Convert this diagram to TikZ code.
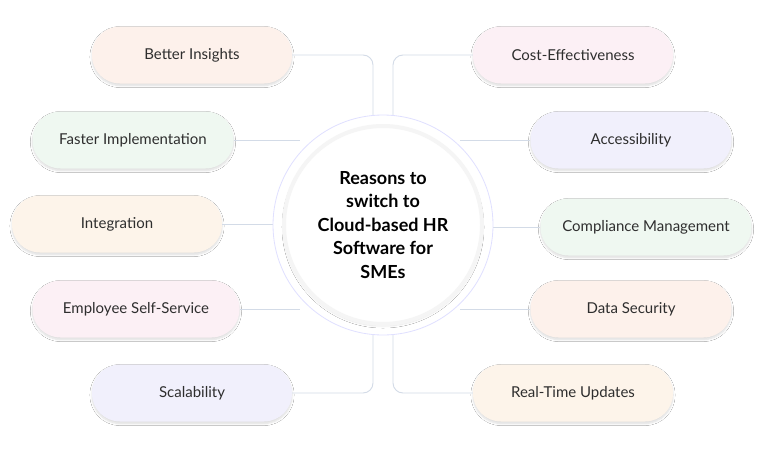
\documentclass[tikz,border=0pt]{standalone}
\usepackage{fontspec}
\setmainfont{Lato}
\usetikzlibrary{shadows.blur}
\definecolor{cpeach}{HTML}{FDF1EB}
\definecolor{cgreen}{HTML}{EFF8F1}
\definecolor{corange}{HTML}{FDF4EA}
\definecolor{cpink}{HTML}{FCF0F5}
\definecolor{clav}{HTML}{F1F0FC}
\definecolor{cline}{HTML}{D3DBE7}
\definecolor{ctext}{HTML}{2E2E2E}
\begin{document}
\begin{tikzpicture}[x=1pt,y=-1pt,
 pill/.style={rounded corners=28pt,minimum height=57pt,text=ctext,font=\fontsize{15}{17}\selectfont,blur shadow={shadow blur steps=6,shadow xshift=0pt,shadow yshift=-2pt,shadow opacity=14}},
 conn/.style={draw=cline,line width=0.9pt,rounded corners=10pt}]
\useasboundingbox (0,0) rectangle (765,450);
\fill[white] (0,0) rectangle (765,450);
\coordinate (c) at (383,225);
\node[pill,fill=cpeach,minimum width=200pt] (bi) at (192,55) {Better Insights};
\node[pill,fill=cgreen,minimum width=201pt] (fi) at (133,140) {Faster Implementation};
\node[pill,fill=corange,minimum width=210pt] (in) at (117,224) {Integration};
\node[pill,fill=cpink,minimum width=207pt] (es) at (136,309) {Employee Self-Service};
\node[pill,fill=clav,minimum width=200pt] (sc) at (192,393) {Scalability};
\node[pill,fill=cpink,minimum width=200pt] (ce) at (573,55) {Cost-Effectiveness};
\node[pill,fill=clav,minimum width=201pt] (ac) at (631,140) {Accessibility};
\node[pill,fill=cgreen,minimum width=211pt] (cm) at (646,227) {Compliance Management};
\node[pill,fill=cpeach,minimum width=201pt] (ds) at (631,309) {Data Security};
\node[pill,fill=corange,minimum width=200pt] (rt) at (573,393) {Real-Time Updates};
\draw[conn] (bi.east) -| (373,140);
\draw[conn] (ce.west) -| (393,140);
\draw[conn] (sc.east) -| (373,310);
\draw[conn] (rt.west) -| (393,310);
\draw[conn] (fi.east) -- (300,140);
\draw[conn] (in.east) -- (300,224);
\draw[conn] (es.east) -- (300,309);
\draw[conn] (ac.west) -- (460,140);
\draw[conn] (cm.west) -- (460,227);
\draw[conn] (ds.west) -- (460,309);
\fill[white,draw=blue!12,line width=0.8pt] (c) circle (110);
\node[circle,minimum size=198pt,fill=white,draw=black!4,line width=4pt,blur shadow={shadow blur steps=6,shadow xshift=0pt,shadow yshift=-2pt,shadow opacity=12},align=center,font=\bfseries\fontsize{18}{23.5}\selectfont] (t) at (c) {Reasons to\\switch to\\Cloud-based HR\\Software for\\SMEs};
\end{tikzpicture}
\end{document}
